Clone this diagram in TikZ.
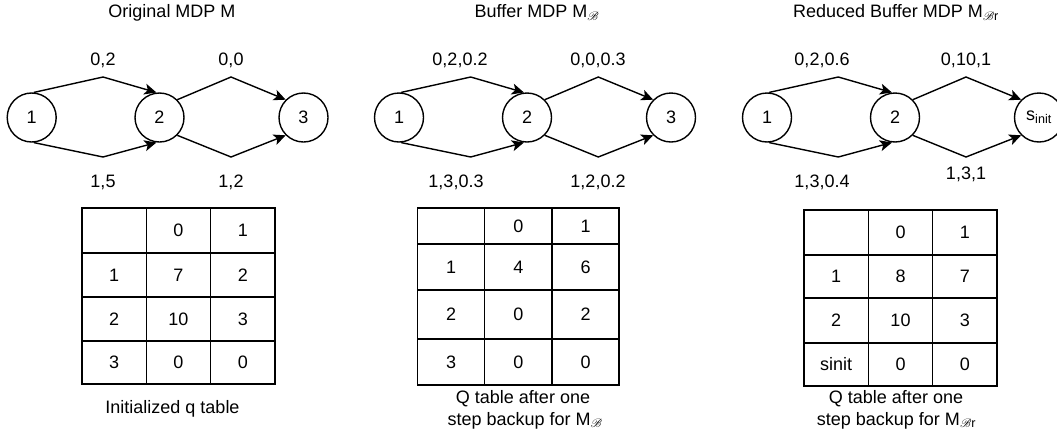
\documentclass[tikz,border=0pt]{standalone}
\usepackage{fontspec}
\setmainfont{Liberation Sans}
\usepackage{mathrsfs}
\usetikzlibrary{arrows.meta}
\newcommand\qrow[8]{%
  \node[cell,minimum width=#5pt,minimum height=#3pt] (#1a) at ({#4+0.5*#5},#2) {#6};
  \node[cell,minimum width=#5pt,minimum height=#3pt] (#1b) at ({#4+1.5*#5},#2) {#7};
  \node[cell,minimum width=#5pt,minimum height=#3pt] (#1c) at ({#4+2.5*#5},#2) {#8};}
\begin{document}
\begin{tikzpicture}[x=1pt,y=-1pt,
  every node/.style={font=\fontsize{18}{22}\selectfont, inner sep=0pt},
  st/.style={circle, draw, line width=1.4pt, minimum size=49pt},
  edge/.style={line width=1.4pt, line join=miter, -{Stealth[length=12pt,width=11pt,inset=3pt]}},
  lbl/.style={anchor=base},
  cell/.style={draw, line width=1.4pt}]
\useasboundingbox (0,0) rectangle (1057,437);

% ---------- panel 1 ----------
\node[lbl] (title1) at (172,17.5) {Original MDP M};
\node[st] (a1) at (31.7,117.5) {1};
\node[st] (a2) at (159.5,117.5) {2};
\node[st] (a3) at (303.5,117.5) {3};
\coordinate (ap1) at (103,77);
\coordinate (av1) at (103,157);
\coordinate (ap2) at (231,77);
\coordinate (av2) at (231,157);
\draw[edge] (a1.85) -- (ap1) -- (a2.97);
\draw[edge] (a1.-85) -- (av1) -- (a2.-97);
\draw[edge] (a2.45) -- (ap2) -- (a3.135);
\draw[edge] (a2.-45) -- (av2) -- (a3.-135);
\node[lbl] (al1) at (103,65) {0,2};
\node[lbl] (al2) at (231,65) {0,0};
\node[lbl] (al3) at (103,187) {1,5};
\node[lbl] (al4) at (231,187) {1,2};

% ---------- panel 2 ----------
\node[lbl] (title2) at (537,17.5) {Buffer MDP M$_{\mathscr{B}}$};
\node[st] (b1) at (399,117.5) {1};
\node[st] (b2) at (527,117.5) {2};
\node[st] (b3) at (671,117.5) {3};
\coordinate (bp1) at (470.7,77);
\coordinate (bv1) at (470.7,157);
\coordinate (bp2) at (598.3,77);
\coordinate (bv2) at (598.3,157);
\draw[edge] (b1.85) -- (bp1) -- (b2.97);
\draw[edge] (b1.-85) -- (bv1) -- (b2.-97);
\draw[edge] (b2.45) -- (bp2) -- (b3.135);
\draw[edge] (b2.-45) -- (bv2) -- (b3.-135);
\node[lbl] (bl1) at (460,65) {0,2,0.2};
\node[lbl] (bl2) at (598,65) {0,0,0.3};
\node[lbl] (bl3) at (456,187) {1,3,0.3};
\node[lbl] (bl4) at (598,187) {1,2,0.2};

% ---------- panel 3 ----------
\node[lbl] (title3) at (896,17.5) {Reduced Buffer MDP M$_{\mathscr{B}\mathrm{r}}$};
\node[st] (c1) at (767,117.5) {1};
\node[st] (c2) at (895,117.5) {2};
\node[st] (c3) at (1039,117.5) {s\textsubscript{init}};
\coordinate (cp1) at (838.3,77);
\coordinate (cv1) at (838.3,157);
\coordinate (cp2) at (966,77);
\coordinate (cv2) at (966,157);
\draw[edge] (c1.85) -- (cp1) -- (c2.97);
\draw[edge] (c1.-85) -- (cv1) -- (c2.-97);
\draw[edge] (c2.45) -- (cp2) -- (c3.135);
\draw[edge] (c2.-45) -- (cv2) -- (c3.-135);
\node[lbl] (cl1) at (822,65) {0,2,0.6};
\node[lbl] (cl2) at (966,65) {0,10,1};
\node[lbl] (cl3) at (822,187) {1,3,0.4};
\node[lbl] (cl4) at (966,179) {1,3,1};

% ---------- table 1 ----------
\qrow{ta0}{230.5}{45}{82}{64.33}{}{0}{1}
\qrow{ta1}{275}{44}{82}{64.33}{1}{7}{2}
\qrow{ta2}{319}{44}{82}{64.33}{2}{10}{3}
\qrow{ta3}{362.5}{43}{82}{64.33}{3}{0}{0}
\node[lbl] (capa) at (172.5,413) {Initialized q table};

% ---------- table 2 ----------
\qrow{tb0}{226}{36}{417.5}{67.2}{}{0}{1}
\qrow{tb1}{267}{46}{417.5}{67.2}{1}{4}{6}
\qrow{tb2}{314.5}{49}{417.5}{67.2}{2}{0}{2}
\qrow{tb3}{362}{46}{417.5}{67.2}{3}{0}{0}
\node[lbl] (capb1) at (523,403) {Q table after one};
\node[lbl] (capb2) at (525,425) {step backup for M$_{\mathscr{B}}$};

% ---------- table 3 ----------
\qrow{tc0}{232.5}{45}{804}{64.33}{}{0}{1}
\qrow{tc1}{276.5}{43}{804}{64.33}{1}{8}{7}
\qrow{tc2}{320.5}{45}{804}{64.33}{2}{10}{3}
\qrow{tc3}{364.5}{43}{804}{64.33}{sinit}{0}{0}
\node[lbl] (capc1) at (896,403) {Q table after one};
\node[lbl] (capc2) at (896.5,425) {step backup for M$_{\mathscr{B}\mathrm{r}}$};
\end{tikzpicture}
\end{document}
